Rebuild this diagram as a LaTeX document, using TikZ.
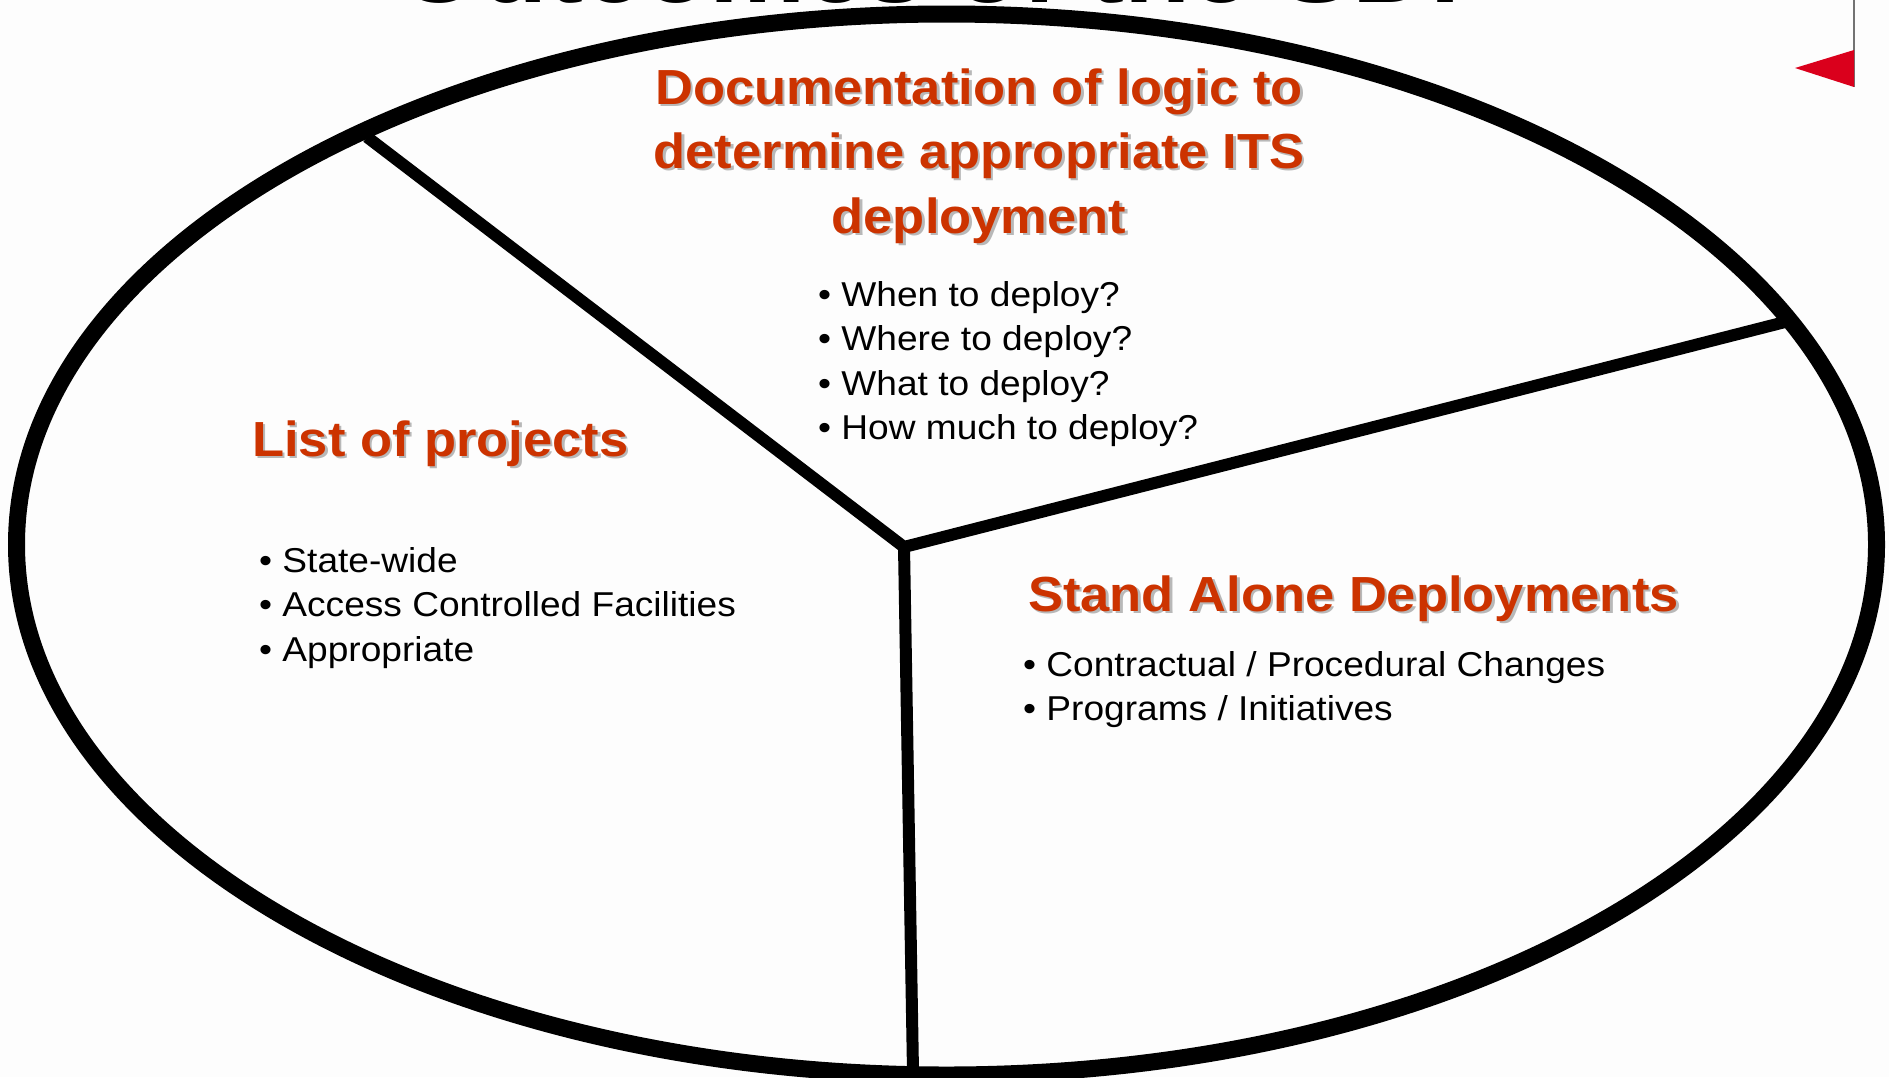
\documentclass[tikz,border=0pt]{standalone}
\usepackage{fontspec}
\setmainfont{Liberation Sans}
\definecolor{hred}{RGB}{204,51,0}
\definecolor{flagred}{RGB}{218,0,28}
\definecolor{bg}{RGB}{253,253,253}
\newcommand\hs[1]{\scalebox{1.065}[1]{#1}}
\newcommand\bs[1]{\scalebox{1.075}[1]{#1}}
\begin{document}
\begin{tikzpicture}[x=1pt,y=-1pt,
  hshadow/.style={inner sep=0pt, font=\bfseries\fontsize{49.3}{59}\selectfont, text=black!28},
  heading/.style={inner sep=0pt, font=\bfseries\fontsize{49.3}{59}\selectfont, text=hred},
  bul/.style={inner sep=0pt, anchor=base west, font=\fontsize{34.5}{41}\selectfont, text=black},
  ring/.style={line width=17pt},
  divider/.style={line width=12pt, line join=round}]
\useasboundingbox (0,0) rectangle (1889,1077);
\fill[bg] (0,0) rectangle (1889,1077);
\clip (0,0) rectangle (1889,1077);
% cut-off title
\node[inner sep=0pt, anchor=base, font=\bfseries\fontsize{97}{113}\selectfont] (title) at (950,2) {\scalebox{1.115}[1]{Outcomes of the SDP}};
% flag
\draw[black!55, line width=2pt] (1854,0) -- (1854,87);
\fill[flagred] (1795,68) -- (1854,50) -- (1854,87) -- cycle;
% ellipse
\draw[ring] (946.5,544.5) ellipse [x radius=930, y radius=530.5];
% dividers
\coordinate (J) at (904,547);
\coordinate (A) at (367,137);
\coordinate (B) at (1785,322);
\coordinate (C) at (913,1072);
\draw[divider] (A) -- (J) -- (B);
\draw[divider] (J) -- (C);
% headings (shadow + text)
\node[hshadow,anchor=base] (h1s) at (981.5,106.5) {\hs{Documentation of logic to}};
\node[heading,anchor=base] (h1) at (979,104) {\hs{Documentation of logic to}};
\node[hshadow,anchor=base] (h2s) at (981.5,170.5) {\hs{determine appropriate ITS}};
\node[heading,anchor=base] (h2) at (979,168) {\hs{determine appropriate ITS}};
\node[hshadow,anchor=base] (h3s) at (981.5,235.5) {\hs{deployment}};
\node[heading,anchor=base] (h3) at (979,233) {\hs{deployment}};
\node[hshadow,anchor=base west] (lps) at (254.5,458.5) {\hs{List of projects}};
\node[heading,anchor=base west] (lp) at (252,456) {\hs{List of projects}};
\node[hshadow,anchor=base west] (sads) at (1030.5,613.5) {\hs{Stand Alone Deployments}};
\node[heading,anchor=base west] (sad) at (1028,611) {\hs{Stand Alone Deployments}};
% bullets top
\node[bul] (t1) at (818,306) {\bs{• When to deploy?}};
\node[bul] (t2) at (818,350.5) {\bs{• Where to deploy?}};
\node[bul] (t3) at (818,395) {\bs{• What to deploy?}};
\node[bul] (t4) at (818,439.5) {\bs{• How much to deploy?}};
% bullets left
\node[bul] (l1) at (259,572) {\bs{• State-wide}};
\node[bul] (l2) at (259,616.5) {\bs{• Access Controlled Facilities}};
\node[bul] (l3) at (259,661) {\bs{• Appropriate}};
% bullets right
\node[bul] (r1) at (1023,676) {\bs{• Contractual / Procedural Changes}};
\node[bul] (r2) at (1023,720.5) {\bs{• Programs / Initiatives}};
\end{tikzpicture}
\end{document}
